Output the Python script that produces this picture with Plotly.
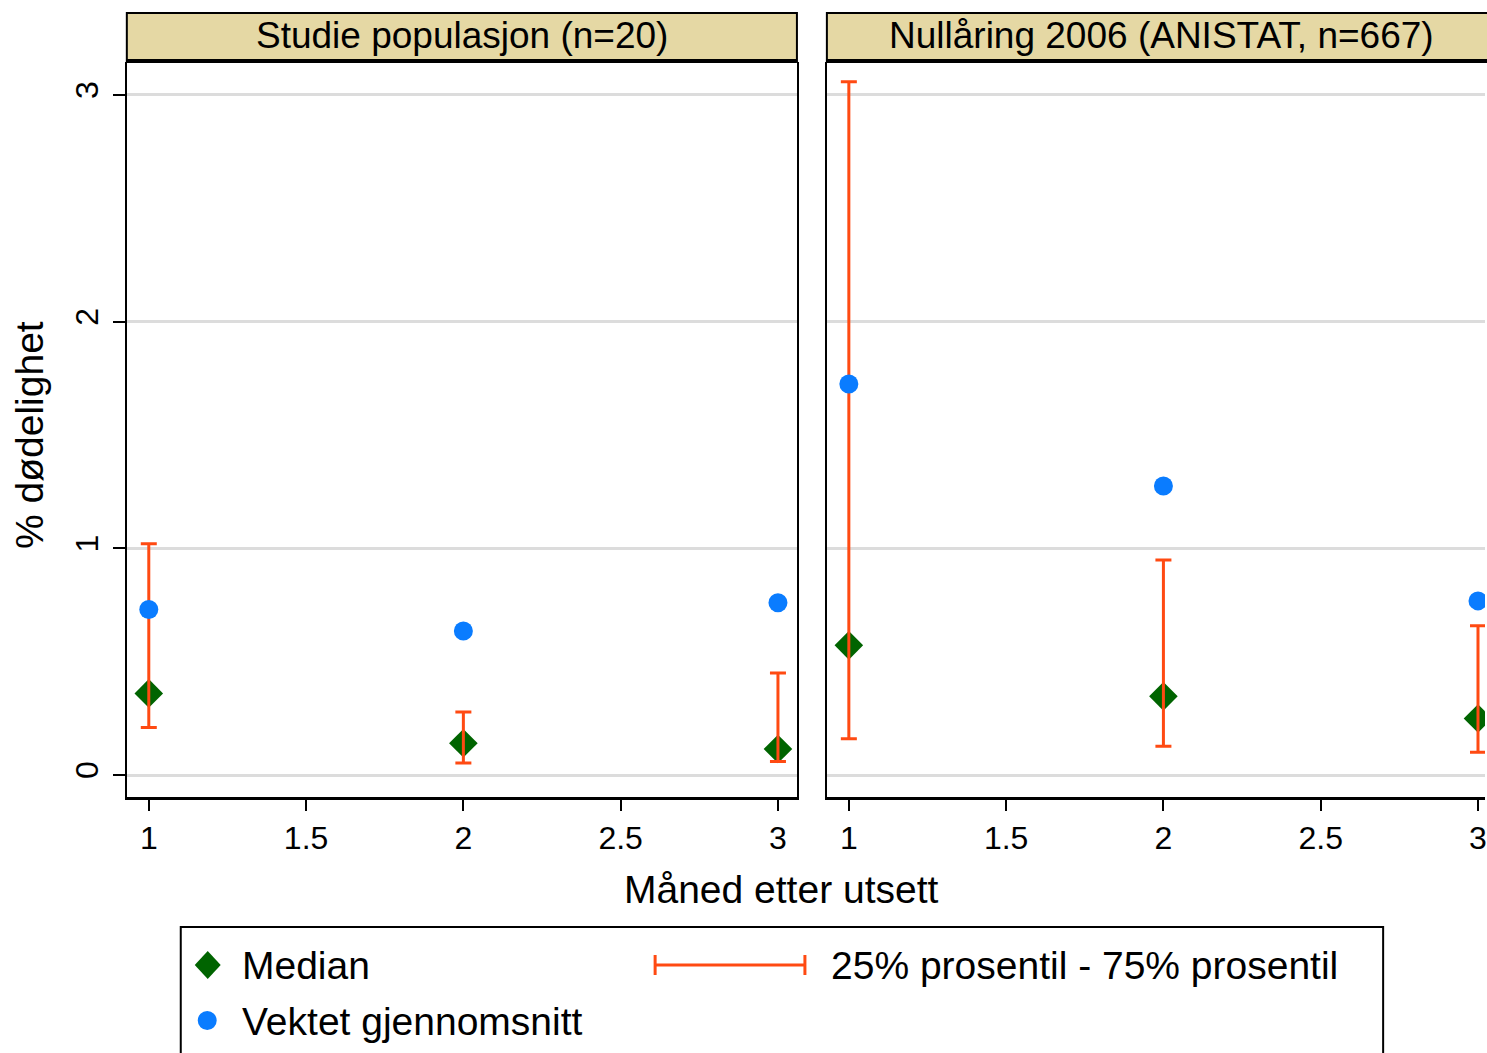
import plotly.graph_objects as go

# ---------------- data ----------------
months = [1, 2, 3]
x_tick_vals = [1, 1.5, 2, 2.5, 3]
x_tick_text = ["1", "1.5", "2", "2.5", "3"]
y_tick_vals = [0, 1, 2, 3]
y_tick_text = ["0", "1", "2", "3"]

panel_titles = ["Studie populasjon (n=20)", "Nullåring 2006 (ANISTAT, n=667)"]

studie_median = [0.36, 0.14, 0.115]
studie_mean = [0.73, 0.635, 0.76]
studie_p25 = [0.21, 0.053, 0.06]
studie_p75 = [1.02, 0.278, 0.45]

null_median = [0.572, 0.347, 0.249]
null_mean = [1.725, 1.275, 0.768]
null_p25 = [0.16, 0.127, 0.10]
null_p75 = [3.058, 0.948, 0.658]

legend_labels = ["Median", "25% prosentil - 75% prosentil", "Vektet gjennomsnitt"]
x_title = "Måned etter utsett"
y_title = "% dødelighet"

# ---------------- style ----------------
W, H = 1487, 1053
FONT = "Liberation Sans, Arial, sans-serif"
C_MED = "#006400"
C_MEAN = "#0a7cff"
C_IQR = "#ff4a12"
C_STRIP = "#e5d8a4"
C_GRID = "#dcdcdc"


def px(x):
    return x / W


def py(y):
    return 1 - y / H


fig = go.Figure()

panels = [
    (studie_median, studie_mean, studie_p25, studie_p75, "x", "y"),
    (null_median, null_mean, null_p25, null_p75, "x2", "y2"),
]
for med, mean, p25, p75, xa, ya in panels:
    fig.add_trace(go.Scatter(
        x=months, y=med, mode="markers", xaxis=xa, yaxis=ya, showlegend=False,
        marker=dict(symbol="diamond", size=22, color=C_MED, line=dict(width=0)),
    ))
    fig.add_trace(go.Scatter(
        x=months, y=p25, mode="markers", xaxis=xa, yaxis=ya, showlegend=False,
        marker=dict(size=1, color="rgba(0,0,0,0)"),
        error_y=dict(type="data", symmetric=False,
                     array=[b - a for a, b in zip(p25, p75)],
                     arrayminus=[0] * len(p25),
                     color=C_IQR, thickness=3, width=8),
    ))
    fig.add_trace(go.Scatter(
        x=months, y=mean, mode="markers", xaxis=xa, yaxis=ya, showlegend=False,
        marker=dict(symbol="circle", size=19, color=C_MEAN, line=dict(width=0)),
    ))

ydom = [py(797), py(62)]
xr1 = [0.9302, 3.0603]
xr2 = [0.9302, 0.9302 + (W - 828) / 315.0]
yr = [-0.097, 3.145]

xcommon = dict(
    tickvals=x_tick_vals, ticktext=x_tick_text, ticks="outside", ticklen=11,
    tickwidth=2, tickcolor="black", showline=True, linewidth=3, linecolor="black",
    showgrid=False, zeroline=False, tickfont=dict(family=FONT, size=32, color="black"),
    ticklabelstandoff=0, ticklabeloverflow="allow",
)
fig.update_layout(
    xaxis=dict(domain=[px(127), px(798)], range=xr1, anchor="y", **xcommon),
    xaxis2=dict(domain=[px(828), 1.0], range=xr2, anchor="y2", **xcommon),
    yaxis=dict(domain=ydom, range=yr, anchor="x", tickvals=y_tick_vals,
               ticktext=y_tick_text, ticks="outside", ticklen=12, tickwidth=2,
               tickcolor="black", tickangle=-90, showgrid=True, gridcolor=C_GRID,
               gridwidth=3, showline=True, linewidth=2, linecolor="black",
               mirror=True, zeroline=False, ticklabelstandoff=2,
               tickfont=dict(family=FONT, size=32, color="black")),
    yaxis2=dict(domain=ydom, range=yr, anchor="x2", matches="y", tickvals=y_tick_vals,
                showticklabels=False, ticks="", showgrid=True, gridcolor=C_GRID,
                gridwidth=3, showline=True, linewidth=2, linecolor="black",
                mirror=False, zeroline=False),
)

shapes = []
annotations = []
# strip headers
for (x0, x1), title in zip([(127, 798), (828, 1499)], panel_titles):
    shapes.append(dict(type="rect", xref="paper", yref="paper", x0=px(x0), x1=px(x1),
                       y0=py(61), y1=py(13), fillcolor=C_STRIP,
                       line=dict(color="black", width=2), layer="above"))
    shapes.append(dict(type="line", xref="paper", yref="paper", x0=px(x0), x1=px(x1),
                       y0=py(61), y1=py(61), line=dict(color="black", width=4),
                       layer="above"))
    annotations.append(dict(xref="paper", yref="paper", x=px((x0 + x1) / 2), y=py(36),
                            text=title, showarrow=False, xanchor="center",
                            yanchor="middle",
                            font=dict(family=FONT, size=37, color="black")))

# axis titles
annotations.append(dict(xref="paper", yref="paper", x=px(783), y=py(889), text=x_title,
                        showarrow=False, xanchor="center", yanchor="middle",
                        font=dict(family=FONT, size=39, color="black")))
annotations.append(dict(xref="paper", yref="paper", x=px(30), y=py(435), text=y_title,
                        showarrow=False, xanchor="center", yanchor="middle",
                        textangle=-90,
                        font=dict(family=FONT, size=39, color="black")))

# legend box
shapes.append(dict(type="rect", xref="paper", yref="paper", x0=px(181), x1=px(1385),
                   y0=py(1070), y1=py(927), fillcolor="white",
                   line=dict(color="black", width=2)))
# legend keys
cx, cy = 208, 965
shapes.append(dict(type="path", xref="paper", yref="paper",
                   path=(f"M {px(cx - 13)},{py(cy)} L {px(cx)},{py(cy - 14)} "
                         f"L {px(cx + 13)},{py(cy)} L {px(cx)},{py(cy + 14)} Z"),
                   fillcolor=C_MED, line=dict(width=0)))
shapes.append(dict(type="circle", xref="paper", yref="paper", x0=px(198), x1=px(217),
                   y0=py(1030), y1=py(1011), fillcolor=C_MEAN, line=dict(width=0)))
shapes.append(dict(type="line", xref="paper", yref="paper", x0=px(656), x1=px(806),
                   y0=py(965), y1=py(965), line=dict(color=C_IQR, width=3)))
for xc in (656, 806):
    shapes.append(dict(type="line", xref="paper", yref="paper", x0=px(xc), x1=px(xc),
                       y0=py(955), y1=py(975), line=dict(color=C_IQR, width=3)))
for (lx, ly), lab in zip([(240, 965), (830, 965), (240, 1021)], legend_labels):
    annotations.append(dict(xref="paper", yref="paper", x=px(lx), y=py(ly), text=lab,
                            showarrow=False, xanchor="left", yanchor="middle",
                            font=dict(family=FONT, size=39, color="black")))

fig.update_layout(
    width=W, height=H, margin=dict(l=0, r=0, t=0, b=0, pad=0),
    paper_bgcolor="white", plot_bgcolor="white", showlegend=False,
    shapes=shapes, annotations=annotations, font=dict(family=FONT),
)

fig.write_html(
    "out.html",
    config={"displayModeBar": False},
    post_script="document.body.style.margin='0';document.body.style.overflow='hidden';",
)
